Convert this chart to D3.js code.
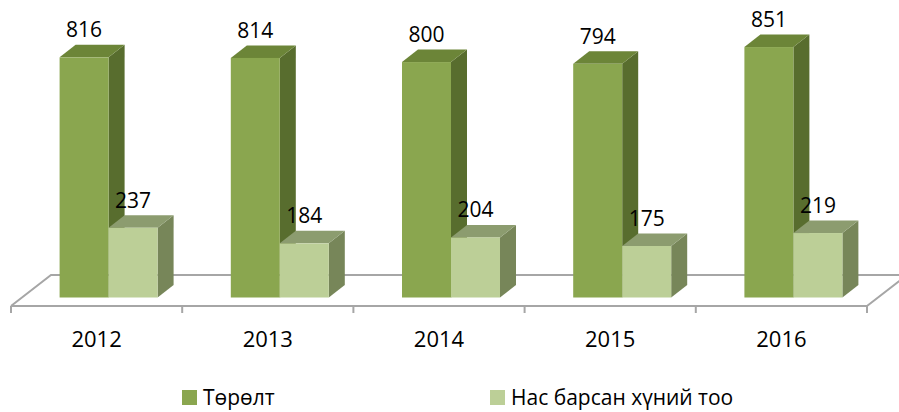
<!DOCTYPE html>
<html>
<head>
<meta charset="utf-8">
<script src="https://cdn.jsdelivr.net/npm/d3@7"></script>
<style>
  body { margin: 0; background: #fff; }
  text { font-family: "Open Sans", "Noto Sans", sans-serif; fill: #000; }
</style>
</head>
<body>
<div id="chart"></div>
<script>
const Width = 899;
const Height = 412;

const years = ["2012", "2013", "2014", "2015", "2016"];
const seriesNames = ["Төрөлт", "Нас барсан хүний тоо"];
const births = [816, 814, 800, 794, 851];
const deaths = [237, 184, 204, 175, 219];

const colors = {
    "Төрөлт": { front: "#8aa64f", top: "#6c8538", side: "#586d2e" },
    "Нас барсан хүний тоо": { front: "#bccf97", top: "#8c9c6f", side: "#778659" }
};

const svg = d3.select("#chart").append("svg").attr("width", Width).attr("height", Height);

// floor front edge and depth
const floorY = 306;
const floorDepth = { dx: 40, dy: -31 };
// plane where bars stand, and bar depth
const plane = { dx: 12, dy: -8.5 };
const barDepth = { dx: 16, dy: -12.5 };

const x = d3.scaleBand().domain(years).range([11, 867]);
const xInner = d3.scaleBand().domain(seriesNames).range([0, x.bandwidth()]).paddingOuter(0.747);
const y = d3.scaleLinear().domain([0, 1000]).range([floorY + plane.dy, floorY + plane.dy - 294.3]);

const data = years.map((yr, i) => ({ year: yr, values: [
    { name: seriesNames[0], value: births[i] },
    { name: seriesNames[1], value: deaths[i] }
]}));

// floor
const x0 = x.range()[0], x1 = x.range()[1];
const floor = svg.append("g").attr("fill", "none").attr("stroke", "#a6a6a6").attr("stroke-width", 2);
floor.append("path")
    .attr("d", `M${x0},${floorY} L${x0 + floorDepth.dx},${floorY + floorDepth.dy} L${x1 + floorDepth.dx},${floorY + floorDepth.dy} L${x1},${floorY}`);

// bars
const bars = svg.append("g");
data.forEach(d => {
    d.values.forEach(v => {
        const bx = x(d.year) + plane.dx + xInner(v.name);
        const bw = xInner.bandwidth();
        const top = y(v.value), bottom = y(0);
        const c = colors[v.name];
        const g = bars.append("g");
        // side
        g.append("path")
            .attr("d", `M${bx + bw},${top} L${bx + bw + barDepth.dx},${top + barDepth.dy} L${bx + bw + barDepth.dx},${bottom + barDepth.dy} L${bx + bw},${bottom} Z`)
            .attr("fill", c.side);
        // top
        g.append("path")
            .attr("d", `M${bx},${top} L${bx + barDepth.dx},${top + barDepth.dy} L${bx + bw + barDepth.dx},${top + barDepth.dy} L${bx + bw},${top} Z`)
            .attr("fill", c.top);
        // front
        g.append("rect")
            .attr("x", bx).attr("y", top)
            .attr("width", bw).attr("height", bottom - top)
            .attr("fill", c.front);
    });
});

// front floor edge, ticks
floor.append("line").attr("x1", x0).attr("x2", x1).attr("y1", floorY).attr("y2", floorY);
const tickXs = years.map(yr => x(yr)).concat([x1]);
floor.selectAll(".tick").data(tickXs).join("line")
    .attr("x1", d => d).attr("x2", d => d)
    .attr("y1", floorY).attr("y2", floorY + 7);

// value labels
data.forEach(d => {
    d.values.forEach(v => {
        svg.append("text")
            .attr("x", x(d.year) + plane.dx + xInner(v.name) + xInner.bandwidth() / 2)
            .attr("y", y(v.value) + barDepth.dy - 7.5)
            .attr("text-anchor", "middle")
            .attr("font-size", 21)
            .text(v.value);
    });
});

// category labels
svg.selectAll(".year").data(years).join("text")
    .attr("x", d => x(d) + x.bandwidth() / 2)
    .attr("y", 347)
    .attr("text-anchor", "middle")
    .attr("font-size", 22)
    .text(d => d);

// legend
const legendX = [182, 490];
const legend = svg.append("g");
seriesNames.forEach((name, i) => {
    legend.append("rect")
        .attr("x", legendX[i]).attr("y", 390)
        .attr("width", 15).attr("height", 15)
        .attr("fill", colors[name].front);
    legend.append("text")
        .attr("x", legendX[i] + 21).attr("y", 405)
        .attr("font-size", 21)
        .text(name);
});
</script>
</body>
</html>
